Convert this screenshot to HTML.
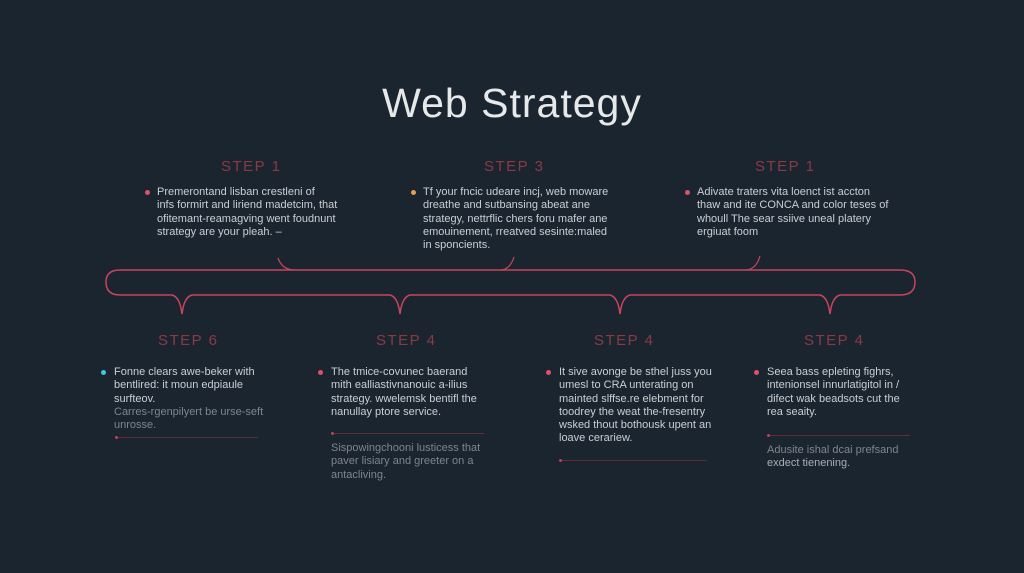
<!DOCTYPE html>
<html><head><meta charset="utf-8"><style>
body{margin:0;width:1024px;height:573px;background:#1b2530;font-family:"Liberation Sans",sans-serif;position:relative;overflow:hidden}
.a{position:absolute}
h1{position:absolute;left:0;width:1024px;top:80px;margin:0;text-align:center;font-weight:300;font-size:41px;color:#e6e8ea;letter-spacing:1px}
.st{position:absolute;color:#8a3a44;font-size:15px;letter-spacing:1.5px}
.tx{position:absolute;color:#c9ced3;font-size:11px;line-height:13.3px}
.g{color:#7d858d}
.d{position:absolute;width:5px;height:5px;border-radius:50%}
.ln{position:absolute;height:1px;background:#5a2e3a}
.ln:before{content:"";position:absolute;left:0;top:-1px;width:3px;height:3px;border-radius:50%;background:#c0405a}
</style></head><body>
<h1>Web Strategy</h1>
<div class="st" style="left:221px;top:158px">STEP 1</div>
<div class="st" style="left:484px;top:158px">STEP 3</div>
<div class="st" style="left:755px;top:158px">STEP 1</div>
<div class="d" style="left:145px;top:190px;background:#e05068"></div>
<div class="tx" style="left:157px;top:186px">Premerontand lisban crestleni of<br>infs formirt and liriend madetcim, that<br>ofitemant-reamagving went foudnunt<br>strategy are your pleah. –</div>
<div class="d" style="left:411px;top:190px;background:#e0a050"></div>
<div class="tx" style="left:423px;top:186px">Tf your fncic udeare incj, web moware<br>dreathe and sutbansing abeat ane<br>strategy, nettrflic chers foru mafer ane<br>emouinement, rreatved sesinte:maled<br>in sponcients.</div>
<div class="d" style="left:685px;top:190px;background:#e05068"></div>
<div class="tx" style="left:697px;top:186px">Adivate traters vita loenct ist accton<br>thaw and ite CONCA and color teses of<br>whoull The sear ssiive uneal platery<br>ergiuat foom</div>
<svg class="a" style="left:0;top:0" width="1024" height="573">
<path fill="none" stroke="#c8455c" stroke-width="1.5" d="M120,270 L900,270 Q915,270 915,282 Q915,295 900,295 L840,295 Q832,297 830,314 Q828,297 820,295 L630,295 Q622,297 620,314 Q618,297 610,295 L410,295 Q402,297 400,314 Q398,297 390,295 L192,295 Q184,297 182,314 Q180,297 172,295 L120,295 Q106,295 106,282 Q106,270 120,270 Z"/>
<path fill="none" stroke="#c8455c" stroke-width="1.2" d="M278,258 Q282,270 295,270 M514,257 Q510,270 500,270 M760,256 Q756,270 745,270"/>
</svg>
<div class="st" style="left:158px;top:332px">STEP 6</div>
<div class="st" style="left:376px;top:332px">STEP 4</div>
<div class="st" style="left:594px;top:332px">STEP 4</div>
<div class="st" style="left:804px;top:332px">STEP 4</div>
<div class="d" style="left:101px;top:370px;background:#40c8e0"></div>
<div class="tx" style="left:114px;top:366px">Fonne clears awe-beker with<br>bentlired: it moun edpiaule<br>surfteov.<br><span class="g">Carres-rgenpilyert be urse-seft<br>unrosse.</span></div>
<div class="ln" style="left:115px;top:437px;width:143px"></div>
<div class="d" style="left:318px;top:370px;background:#e05068"></div>
<div class="tx" style="left:331px;top:366px">The tmice-covunec baerand<br>mith ealliastivnanouic a-ilius<br>strategy. wwelemsk bentifl the<br>nanullay ptore service.</div>
<div class="ln" style="left:331px;top:433px;width:153px"></div>
<div class="tx g" style="left:331px;top:442px">Sispowingchooni lusticess that<br>paver lisiary and greeter on a<br>antacliving.</div>
<div class="d" style="left:546px;top:370px;background:#e05068"></div>
<div class="tx" style="left:559px;top:366px">It sive avonge be sthel juss you<br>umesl to CRA unterating on<br>mainted slffse.re elebment for<br>toodrey the weat the-fresentry<br>wsked thout bothousk upent an<br>loave cerariew.</div>
<div class="ln" style="left:559px;top:460px;width:148px"></div>
<div class="d" style="left:754px;top:370px;background:#e05068"></div>
<div class="tx" style="left:767px;top:366px">Seea bass epleting fighrs,<br>intenionsel innurlatigitol in /<br>difect wak beadsots cut the<br>rea seaity.</div>
<div class="ln" style="left:767px;top:435px;width:143px"></div>
<div class="tx g" style="left:767px;top:444px">Adusite ishal dcai prefsand<br><span style="color:#a8aeb4">exdect tienening.</span></div>
</body></html>
